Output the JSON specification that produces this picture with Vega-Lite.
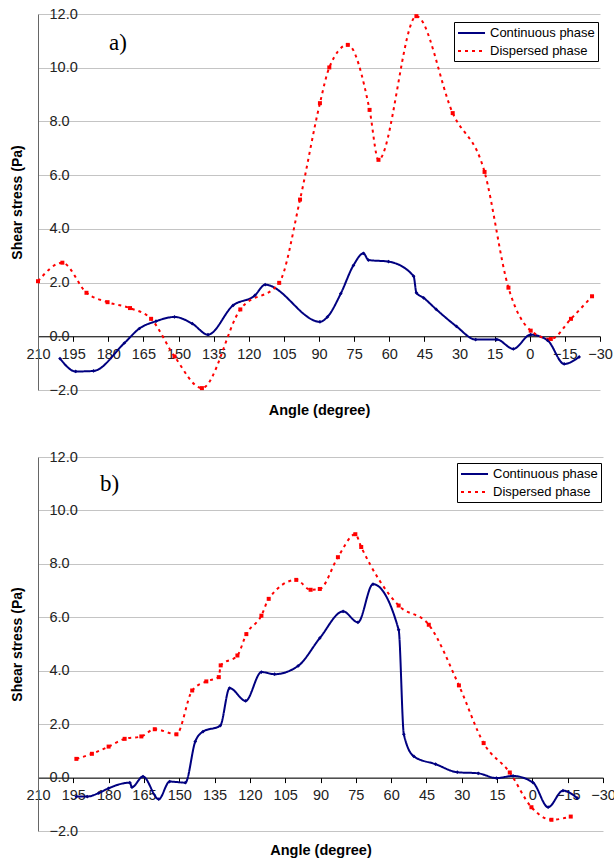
{
  "$schema": "https://vega.github.io/schema/vega-lite/v6.json",
  "background": "white",
  "padding": {"left": 10, "top": 6, "right": 4, "bottom": 4},
  "datasets": {
    "a": [
      {"angle": 200.6, "stress": -0.83, "phase": "Continuous phase"},
      {"angle": 193.9, "stress": -1.31, "phase": "Continuous phase"},
      {"angle": 186.3, "stress": -1.29, "phase": "Continuous phase"},
      {"angle": 173.1, "stress": -0.25, "phase": "Continuous phase"},
      {"angle": 166.7, "stress": 0.29, "phase": "Continuous phase"},
      {"angle": 159.6, "stress": 0.56, "phase": "Continuous phase"},
      {"angle": 151.7, "stress": 0.72, "phase": "Continuous phase"},
      {"angle": 144.1, "stress": 0.47, "phase": "Continuous phase"},
      {"angle": 137.4, "stress": 0.06, "phase": "Continuous phase"},
      {"angle": 126.7, "stress": 1.15, "phase": "Continuous phase"},
      {"angle": 117.4, "stress": 1.52, "phase": "Continuous phase"},
      {"angle": 113.0, "stress": 1.92, "phase": "Continuous phase"},
      {"angle": 89.6, "stress": 0.54, "phase": "Continuous phase"},
      {"angle": 86.4, "stress": 0.72, "phase": "Continuous phase"},
      {"angle": 80.7, "stress": 1.59, "phase": "Continuous phase"},
      {"angle": 75.3, "stress": 2.64, "phase": "Continuous phase"},
      {"angle": 71.0, "stress": 3.09, "phase": "Continuous phase"},
      {"angle": 68.9, "stress": 2.84, "phase": "Continuous phase"},
      {"angle": 60.3, "stress": 2.78, "phase": "Continuous phase"},
      {"angle": 49.6, "stress": 2.24, "phase": "Continuous phase"},
      {"angle": 48.4, "stress": 1.62, "phase": "Continuous phase"},
      {"angle": 45.3, "stress": 1.43, "phase": "Continuous phase"},
      {"angle": 39.9, "stress": 1.0, "phase": "Continuous phase"},
      {"angle": 31.3, "stress": 0.37, "phase": "Continuous phase"},
      {"angle": 23.1, "stress": -0.12, "phase": "Continuous phase"},
      {"angle": 14.1, "stress": -0.12, "phase": "Continuous phase"},
      {"angle": 7.0, "stress": -0.47, "phase": "Continuous phase"},
      {"angle": -0.4, "stress": 0.06, "phase": "Continuous phase"},
      {"angle": -7.6, "stress": -0.15, "phase": "Continuous phase"},
      {"angle": -14.7, "stress": -1.03, "phase": "Continuous phase"},
      {"angle": -21.1, "stress": -0.77, "phase": "Continuous phase"},
      {"angle": 210.0, "stress": 2.05, "phase": "Dispersed phase"},
      {"angle": 199.6, "stress": 2.74, "phase": "Dispersed phase"},
      {"angle": 189.3, "stress": 1.62, "phase": "Dispersed phase"},
      {"angle": 180.3, "stress": 1.27, "phase": "Dispersed phase"},
      {"angle": 170.7, "stress": 1.05, "phase": "Dispersed phase"},
      {"angle": 161.7, "stress": 0.65, "phase": "Dispersed phase"},
      {"angle": 151.7, "stress": -0.75, "phase": "Dispersed phase"},
      {"angle": 140.0, "stress": -1.93, "phase": "Dispersed phase"},
      {"angle": 123.6, "stress": 1.0, "phase": "Dispersed phase"},
      {"angle": 107.0, "stress": 1.99, "phase": "Dispersed phase"},
      {"angle": 98.1, "stress": 5.09, "phase": "Dispersed phase"},
      {"angle": 89.6, "stress": 8.68, "phase": "Dispersed phase"},
      {"angle": 85.6, "stress": 10.01, "phase": "Dispersed phase"},
      {"angle": 77.7, "stress": 10.85, "phase": "Dispersed phase"},
      {"angle": 68.4, "stress": 8.43, "phase": "Dispersed phase"},
      {"angle": 64.6, "stress": 6.57, "phase": "Dispersed phase"},
      {"angle": 48.4, "stress": 11.92, "phase": "Dispersed phase"},
      {"angle": 32.9, "stress": 8.31, "phase": "Dispersed phase"},
      {"angle": 19.3, "stress": 6.12, "phase": "Dispersed phase"},
      {"angle": 9.1, "stress": 1.81, "phase": "Dispersed phase"},
      {"angle": -0.4, "stress": 0.21, "phase": "Dispersed phase"},
      {"angle": -9.0, "stress": -0.1, "phase": "Dispersed phase"},
      {"angle": -17.6, "stress": 0.65, "phase": "Dispersed phase"},
      {"angle": -26.6, "stress": 1.49, "phase": "Dispersed phase"}
    ],
    "b": [
      {"angle": 193.7, "stress": -0.71, "phase": "Continuous phase"},
      {"angle": 189.1, "stress": -0.71, "phase": "Continuous phase"},
      {"angle": 184.2, "stress": -0.58, "phase": "Continuous phase"},
      {"angle": 180.0, "stress": -0.4, "phase": "Continuous phase"},
      {"angle": 171.0, "stress": -0.19, "phase": "Continuous phase"},
      {"angle": 170.1, "stress": -0.36, "phase": "Continuous phase"},
      {"angle": 165.4, "stress": 0.04, "phase": "Continuous phase"},
      {"angle": 158.7, "stress": -0.81, "phase": "Continuous phase"},
      {"angle": 154.1, "stress": -0.15, "phase": "Continuous phase"},
      {"angle": 147.4, "stress": -0.19, "phase": "Continuous phase"},
      {"angle": 143.2, "stress": 1.35, "phase": "Continuous phase"},
      {"angle": 139.9, "stress": 1.72, "phase": "Continuous phase"},
      {"angle": 132.6, "stress": 1.94, "phase": "Continuous phase"},
      {"angle": 128.6, "stress": 3.35, "phase": "Continuous phase"},
      {"angle": 121.8, "stress": 2.87, "phase": "Continuous phase"},
      {"angle": 115.1, "stress": 3.95, "phase": "Continuous phase"},
      {"angle": 109.5, "stress": 3.87, "phase": "Continuous phase"},
      {"angle": 99.5, "stress": 4.18, "phase": "Continuous phase"},
      {"angle": 90.3, "stress": 5.22, "phase": "Continuous phase"},
      {"angle": 80.4, "stress": 6.22, "phase": "Continuous phase"},
      {"angle": 74.1, "stress": 5.81, "phase": "Continuous phase"},
      {"angle": 67.7, "stress": 7.24, "phase": "Continuous phase"},
      {"angle": 56.8, "stress": 5.53, "phase": "Continuous phase"},
      {"angle": 54.6, "stress": 1.62, "phase": "Continuous phase"},
      {"angle": 50.3, "stress": 0.79, "phase": "Continuous phase"},
      {"angle": 41.1, "stress": 0.5, "phase": "Continuous phase"},
      {"angle": 31.9, "stress": 0.2, "phase": "Continuous phase"},
      {"angle": 23.0, "stress": 0.16, "phase": "Continuous phase"},
      {"angle": 15.3, "stress": -0.02, "phase": "Continuous phase"},
      {"angle": 8.2, "stress": 0.06, "phase": "Continuous phase"},
      {"angle": -0.3, "stress": -0.19, "phase": "Continuous phase"},
      {"angle": -6.7, "stress": -1.11, "phase": "Continuous phase"},
      {"angle": -13.0, "stress": -0.49, "phase": "Continuous phase"},
      {"angle": -19.1, "stress": -0.77, "phase": "Continuous phase"},
      {"angle": 193.7, "stress": 0.7, "phase": "Dispersed phase"},
      {"angle": 187.1, "stress": 0.89, "phase": "Dispersed phase"},
      {"angle": 180.0, "stress": 1.16, "phase": "Dispersed phase"},
      {"angle": 173.2, "stress": 1.45, "phase": "Dispersed phase"},
      {"angle": 166.1, "stress": 1.54, "phase": "Dispersed phase"},
      {"angle": 160.4, "stress": 1.81, "phase": "Dispersed phase"},
      {"angle": 151.2, "stress": 1.62, "phase": "Dispersed phase"},
      {"angle": 144.5, "stress": 3.26, "phase": "Dispersed phase"},
      {"angle": 138.5, "stress": 3.6, "phase": "Dispersed phase"},
      {"angle": 133.2, "stress": 3.76, "phase": "Dispersed phase"},
      {"angle": 132.4, "stress": 4.2, "phase": "Dispersed phase"},
      {"angle": 125.3, "stress": 4.57, "phase": "Dispersed phase"},
      {"angle": 121.5, "stress": 5.37, "phase": "Dispersed phase"},
      {"angle": 115.1, "stress": 6.06, "phase": "Dispersed phase"},
      {"angle": 112.0, "stress": 6.69, "phase": "Dispersed phase"},
      {"angle": 100.3, "stress": 7.4, "phase": "Dispersed phase"},
      {"angle": 94.2, "stress": 7.03, "phase": "Dispersed phase"},
      {"angle": 90.3, "stress": 7.06, "phase": "Dispersed phase"},
      {"angle": 82.6, "stress": 8.25, "phase": "Dispersed phase"},
      {"angle": 75.2, "stress": 9.11, "phase": "Dispersed phase"},
      {"angle": 72.7, "stress": 8.63, "phase": "Dispersed phase"},
      {"angle": 56.8, "stress": 6.44, "phase": "Dispersed phase"},
      {"angle": 44.0, "stress": 5.72, "phase": "Dispersed phase"},
      {"angle": 31.2, "stress": 3.45, "phase": "Dispersed phase"},
      {"angle": 20.7, "stress": 1.29, "phase": "Dispersed phase"},
      {"angle": 9.6, "stress": 0.19, "phase": "Dispersed phase"},
      {"angle": 0.4, "stress": -1.11, "phase": "Dispersed phase"},
      {"angle": -8.1, "stress": -1.58, "phase": "Dispersed phase"},
      {"angle": -16.3, "stress": -1.46, "phase": "Dispersed phase"}
    ]
  },
  "vconcat": [
    {
      "width": 562,
      "height": 376,
      "title": {"text": "a)", "orient": "top", "anchor": "start", "frame": "group", "font": "Liberation Serif", "fontSize": 23, "fontWeight": "normal", "baseline": "middle", "offset": -30, "dx": 71, "dy": 30},
      "data": {"name": "a"},
      "encoding": {
        "x": {
          "field": "angle", "type": "quantitative",
          "scale": {"domain": [-30, 210], "reverse": true, "nice": false, "zero": false},
          "axis": {"values": [210, 195, 180, 165, 150, 135, 120, 105, 90, 75, 60, 45, 30, 15, 0, -15, -30], "format": "d", "offset": -53.7, "labelOverlap": false, "labelFlush": false, "labelPadding": 6, "labelFontSize": 14.5, "labelFont": "Liberation Sans", "labelColor": "#222222", "grid": false, "domainColor": "black", "tickColor": "black", "tickSize": 5, "title": "Angle (degree)", "titleFontSize": 14.5, "titleFont": "Liberation Sans", "titleFontWeight": "bold", "titleColor": "black", "titleBaseline": "middle", "titleY": 74}
        },
        "y": {
          "field": "stress", "type": "quantitative",
          "scale": {"domain": [-2, 12], "nice": false},
          "axis": {"values": [-2, 0, 2, 4, 6, 8, 10, 12], "format": ".1f", "title": "Shear stress (Pa)", "titleFontSize": 14, "titleFont": "Liberation Sans", "titleFontWeight": "bold", "titleColor": "black", "titlePadding": 14, "labelAlign": "left", "labelPadding": -11, "labelFontSize": 14.5, "labelFont": "Liberation Sans", "labelColor": "#222222", "labelOverlap": false, "labelFlush": false, "ticks": false, "grid": true, "gridColor": "#c4c4c4", "domainColor": "#666666"}
        }
      },
      "layer": [
        {
          "mark": {"type": "line", "interpolate": "monotone", "strokeWidth": 2},
          "encoding": {
            "color": {
              "field": "phase", "type": "nominal",
              "scale": {"domain": ["Continuous phase", "Dispersed phase"], "range": ["#000080", "#ff0000"]},
              "legend": {"symbolType": "M-1,0H2.86", "symbolSize": 196, "labelOffset": 17, "orient": "none", "legendX": 416, "legendY": 8}
            },
            "strokeDash": {
              "field": "phase", "type": "nominal",
              "scale": {"domain": ["Continuous phase", "Dispersed phase"], "range": [[1, 0], [3, 4]]},
              "legend": {"symbolType": "M-1,0H2.86", "symbolSize": 196, "labelOffset": 17, "orient": "none", "legendX": 416, "legendY": 8}
            }
          }
        },
        {
          "transform": [{"filter": "datum.phase == 'Continuous phase'"}],
          "mark": {"type": "point", "shape": "diamond", "filled": true, "size": 14, "color": "#000080", "opacity": 1}
        },
        {
          "transform": [{"filter": "datum.phase == 'Dispersed phase'"}],
          "mark": {"type": "point", "shape": "square", "filled": true, "size": 16, "color": "#ff0000", "opacity": 1}
        }
      ]
    },
    {
      "width": 565,
      "height": 374,
      "title": {"text": "b)", "orient": "top", "anchor": "start", "frame": "group", "font": "Liberation Serif", "fontSize": 23, "fontWeight": "normal", "baseline": "middle", "offset": -30, "dx": 62, "dy": 28},
      "data": {"name": "b"},
      "encoding": {
        "x": {
          "field": "angle", "type": "quantitative",
          "scale": {"domain": [-30, 210], "reverse": true, "nice": false, "zero": false},
          "axis": {"values": [210, 195, 180, 165, 150, 135, 120, 105, 90, 75, 60, 45, 30, 15, 0, -15, -30], "format": "d", "offset": -53.4, "labelOverlap": false, "labelFlush": false, "labelPadding": 6, "labelFontSize": 14.5, "labelFont": "Liberation Sans", "labelColor": "#222222", "grid": false, "domainColor": "black", "tickColor": "black", "tickSize": 5, "title": "Angle (degree)", "titleFontSize": 14.5, "titleFont": "Liberation Sans", "titleFontWeight": "bold", "titleColor": "black", "titleBaseline": "middle", "titleY": 73}
        },
        "y": {
          "field": "stress", "type": "quantitative",
          "scale": {"domain": [-2, 12], "nice": false},
          "axis": {"values": [-2, 0, 2, 4, 6, 8, 10, 12], "format": ".1f", "title": "Shear stress (Pa)", "titleFontSize": 14, "titleFont": "Liberation Sans", "titleFontWeight": "bold", "titleColor": "black", "titlePadding": 14, "labelAlign": "left", "labelPadding": -11, "labelFontSize": 14.5, "labelFont": "Liberation Sans", "labelColor": "#222222", "labelOverlap": false, "labelFlush": false, "ticks": false, "grid": true, "gridColor": "#c4c4c4", "domainColor": "#666666"}
        }
      },
      "layer": [
        {
          "mark": {"type": "line", "interpolate": "monotone", "strokeWidth": 2},
          "encoding": {
            "color": {
              "field": "phase", "type": "nominal",
              "scale": {"domain": ["Continuous phase", "Dispersed phase"], "range": ["#000080", "#ff0000"]},
              "legend": {"symbolType": "M-1,0H2.86", "symbolSize": 196, "labelOffset": 17, "orient": "none", "legendX": 419, "legendY": 6}
            },
            "strokeDash": {
              "field": "phase", "type": "nominal",
              "scale": {"domain": ["Continuous phase", "Dispersed phase"], "range": [[1, 0], [3, 4]]},
              "legend": {"symbolType": "M-1,0H2.86", "symbolSize": 196, "labelOffset": 17, "orient": "none", "legendX": 419, "legendY": 6}
            }
          }
        },
        {
          "transform": [{"filter": "datum.phase == 'Continuous phase'"}],
          "mark": {"type": "point", "shape": "diamond", "filled": true, "size": 14, "color": "#000080", "opacity": 1}
        },
        {
          "transform": [{"filter": "datum.phase == 'Dispersed phase'"}],
          "mark": {"type": "point", "shape": "square", "filled": true, "size": 16, "color": "#ff0000", "opacity": 1}
        }
      ]
    }
  ],
  "spacing": 67,
  "bounds": "flush",
  "resolve": {
    "scale": {"x": "independent", "y": "independent", "color": "independent", "strokeDash": "independent"},
    "legend": {"color": "independent", "strokeDash": "independent"}
  },
  "config": {
    "font": "Liberation Sans",
    "view": {"stroke": null},
    "legend": {
      "title": null,
      "strokeColor": "black",
      "fillColor": "white",
      "padding": 3,
      "labelFont": "Liberation Sans",
      "labelFontSize": 13,
      "labelColor": "black",
      "symbolStrokeWidth": 2,
      "rowPadding": 3
    },
    "title": {"color": "black"}
  }
}
